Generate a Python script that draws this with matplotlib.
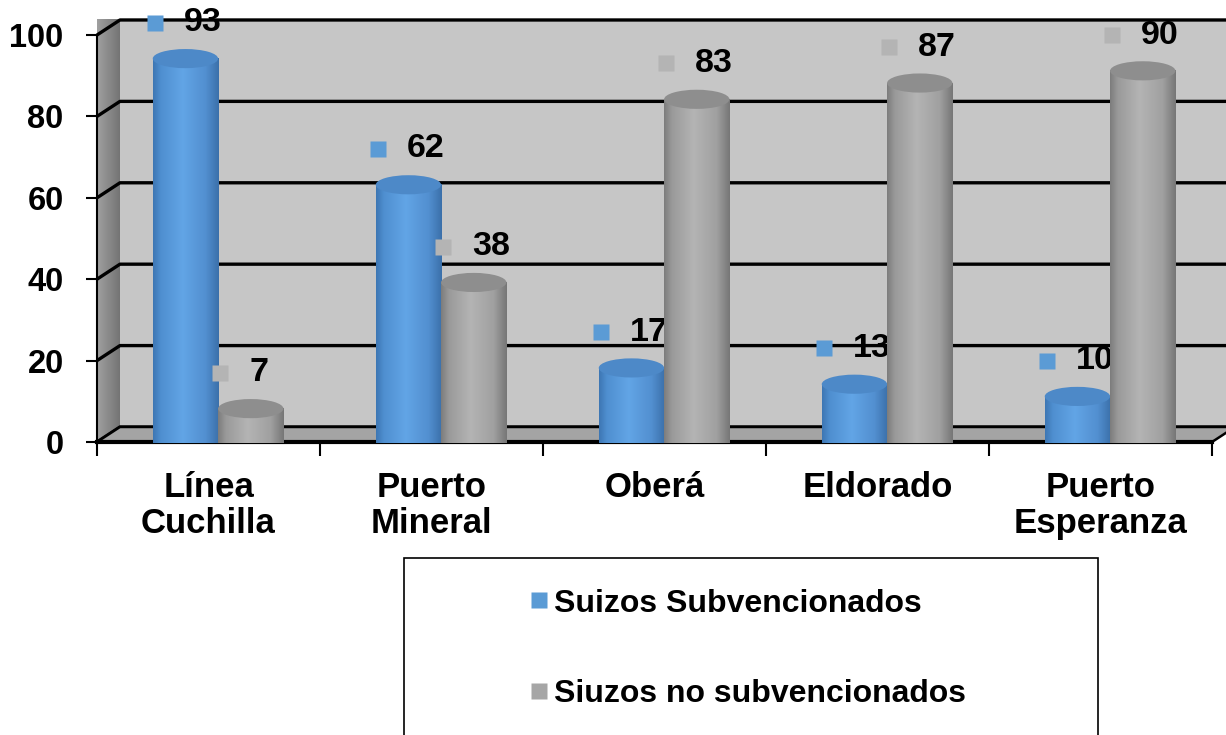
import numpy as np
import matplotlib.pyplot as plt
from matplotlib.patches import Polygon, Ellipse, Rectangle
from matplotlib.colors import LinearSegmentedColormap
from matplotlib.lines import Line2D

# datos
categorias = ['Línea\nCuchilla', 'Puerto\nMineral', 'Oberá', 'Eldorado', 'Puerto\nEsperanza']
subvencionados = [93, 62, 17, 13, 10]
no_subvencionados = [7, 38, 83, 87, 90]
series = ['Suizos Subvencionados', 'Siuzos no subvencionados']
yticks = [0, 20, 40, 60, 80, 100]

plt.rcParams['font.family'] = ['Liberation Sans', 'DejaVu Sans']
plt.rcParams['font.weight'] = 'bold'

W, H = 1226, 735
fig = plt.figure(figsize=(W / 100, H / 100), dpi=100)
ax = fig.add_axes([97 / W, 293 / H, 1115 / W, 407 / H])

dx, dy = 0.103, 3.69   # profundidad del "3D"
x0, x1 = -0.5, 4.5

grad = np.linspace(0, 1, 256).reshape(1, -1)

# pared del fondo
ax.add_patch(Polygon([(x0 + dx, dy), (x1 + dx, dy), (x1 + dx, 100 + dy), (x0 + dx, 100 + dy)],
                     closed=True, fc='#c6c6c6', ec='none', clip_on=False, zorder=0))
# pared lateral
cmap_lado = LinearSegmentedColormap.from_list('lado', ['#a0a0a0', '#747474'])
lado = Polygon([(x0, 0), (x0 + dx, dy), (x0 + dx, 100 + dy), (x0, 100)],
               closed=True, fc='none', ec='none', clip_on=False, zorder=0.5)
ax.add_patch(lado)
im = ax.imshow(grad, cmap=cmap_lado, extent=(x0, x0 + dx, 0, 100 + dy), aspect='auto',
               zorder=0.5, clip_on=False)
im.set_clip_path(lado)

# lineas de la grilla
for v in yticks:
    ax.plot([x0, x0 + dx, x1 + dx + 0.1], [v, v + dy, v + dy], color='black', lw=2.4,
            clip_on=False, zorder=1, solid_capstyle='butt')

# piso
ax.add_patch(Polygon([(x0, 0), (x1, 0), (x1 + dx, dy), (x0 + dx, dy)], closed=True,
                     fc='#a4a4a4', ec='black', lw=1.8, clip_on=False, zorder=2))
ax.plot([x0, x1], [0, 0], color='black', lw=3, clip_on=False, zorder=2.1)

cmap_azul = LinearSegmentedColormap.from_list(
    'azul', [(0, '#3d76b3'), (0.12, '#4f8fd0'), (0.45, '#62a5e6'), (0.8, '#528fd0'), (1, '#3b70aa')])
cmap_gris = LinearSegmentedColormap.from_list(
    'gris', [(0, '#7c7c7c'), (0.12, '#9a9a9a'), (0.45, '#b4b4b4'), (0.8, '#a0a0a0'), (1, '#767676')])

w = 0.293
eh = 4.7
yb = 2.1

def cilindro(xc, valor, cmap, tapa, z):
    top = valor + 1.2
    th = np.linspace(np.pi, 2 * np.pi, 60)
    arco = list(zip(xc + w / 2 * np.cos(th), yb + eh / 2 * np.sin(th)))
    pts = [(xc - w / 2, top)] + arco + [(xc + w / 2, top)]
    poly = Polygon(pts, closed=True, fc='none', ec='none', zorder=z, clip_on=False)
    ax.add_patch(poly)
    im = ax.imshow(grad, cmap=cmap, extent=(xc - w / 2, xc + w / 2, yb - eh / 2, top),
                   aspect='auto', zorder=z, clip_on=False, interpolation='bilinear')
    im.set_clip_path(poly)
    ax.add_patch(Ellipse((xc, top), w, eh, fc=tapa, ec='none', zorder=z + 0.01, clip_on=False))

def etiqueta(xc, valor, color, z):
    xs = xc - w / 2 + 0.01
    ax.plot([xs], [valor + 10], marker='s', ms=12, color=color, mec='none',
            clip_on=False, zorder=z)
    ax.text(xs + 0.13, valor + 10, str(valor), fontsize=24.5, fontweight='bold',
            ha='left', va='center', zorder=z)

xpos = np.arange(len(categorias))
for i, x in enumerate(xpos):
    cilindro(x - 0.1035, subvencionados[i], cmap_azul, '#4d89c8', 3)
    etiqueta(x - 0.1035, subvencionados[i], '#5b9bd5', 3.5)
for i, x in enumerate(xpos):
    cilindro(x + 0.1895, no_subvencionados[i], cmap_gris, '#8e8e8e', 4)
    etiqueta(x + 0.1895, no_subvencionados[i], '#b4b4b4', 4.5)

ax.set_xlim(x0, x1)
ax.set_ylim(0, 100)
ax.set_aspect('auto')

# ejes
for s in ['top', 'right']:
    ax.spines[s].set_visible(False)
ax.spines['left'].set_linewidth(1.5)
ax.spines['bottom'].set_visible(False)
ax.set_yticks(yticks)
ax.tick_params(axis='y', length=8, width=1.5, pad=16, labelsize=23.5)
ax.set_xticks(xpos)
ax.set_xticklabels(categorias, fontsize=25, fontweight='bold', linespacing=1.12)
ax.set_xticks(np.arange(-0.5, 5.0, 1.0), minor=True)
ax.tick_params(axis='x', which='major', length=0, pad=21)
ax.tick_params(axis='x', which='minor', length=10, width=1.5)
for lbl in ax.get_yticklabels():
    lbl.set_fontweight('bold')

# leyenda
fig.patches.append(Rectangle((404 / W, -0.01), 694 / W, (735 - 558) / H + 0.01,
                             transform=fig.transFigure, fc='white', ec='black', lw=1.2))
handles = [Line2D([], [], marker='s', ls='none', color='#5b9bd5', ms=11.5, mec='none'),
           Line2D([], [], marker='s', ls='none', color='#a6a6a6', ms=11.5, mec='none')]
leg = fig.legend(handles, series, loc='center left', bbox_to_anchor=(512 / W, (735 - 649) / H),
                 frameon=False, fontsize=23, handlelength=0.7, handletextpad=0.12,
                 labelspacing=1.9, borderpad=0)
for t in leg.get_texts():
    t.set_fontweight('bold')

fig.savefig('out.png', dpi=100)
